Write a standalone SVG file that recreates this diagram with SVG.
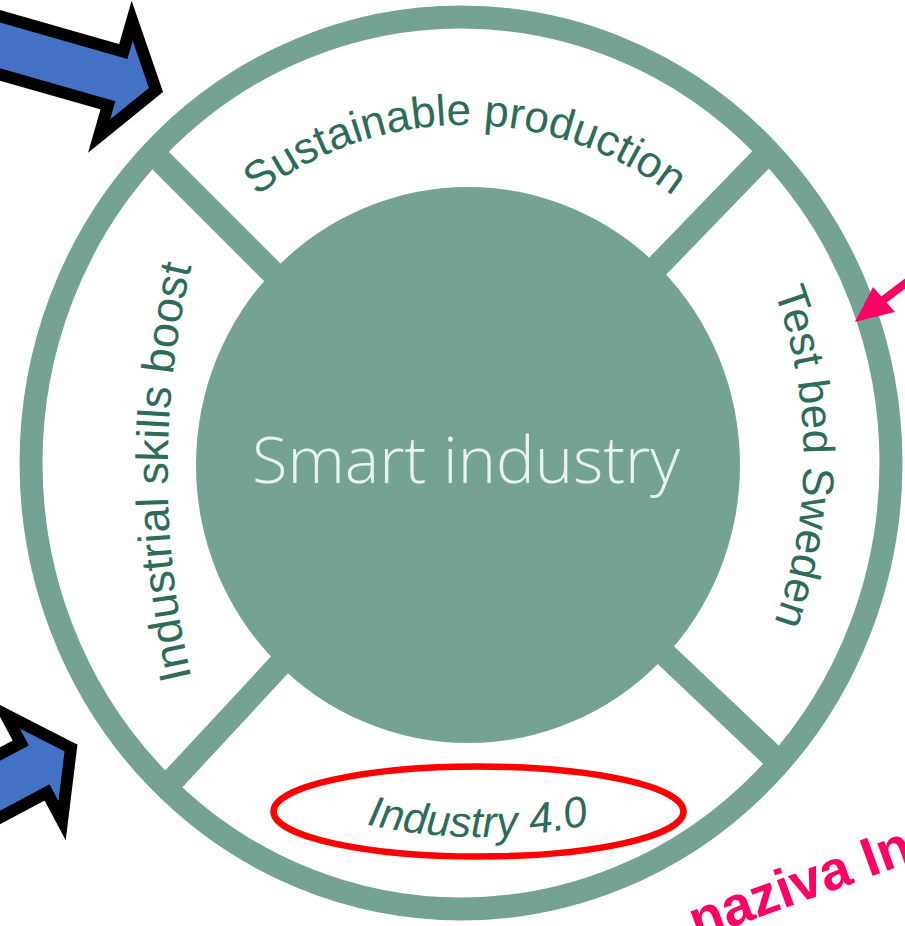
<svg xmlns="http://www.w3.org/2000/svg" width="905" height="926" viewBox="0 0 905 926">
  <defs>
    <style>
      .teal { fill: #74a396; }
      .ringline { fill: none; stroke: #74a396; stroke-width: 23; }
      .spoke { stroke: #74a396; stroke-width: 24; stroke-linecap: butt; }
      .lbl { fill: #2d6b5b; font-family: "Liberation Sans", Arial, sans-serif; }
      .blue { fill: #4472c4; stroke: #000; stroke-width: 12; stroke-linejoin: miter; stroke-miterlimit: 10; }
      .pink { fill: #ff0066; }
    </style>
    <path id="pTop" d="M 125,465 A 340 340 0 0 1 805,465"/>
    <path id="pRight" d="M 563,41 A 480 480 0 0 1 563,873"/>
    <path id="pLeft" d="M 222,780 A 900 900 0 0 1 222,164"/>
    <path id="pBottom" d="M 228,770 A 500 500 0 0 0 728,770"/>
    <polygon id="blockArrow" points="0,0 -42,-60 -42,-28 -320,-28 -320,28 -42,28 -42,60"/>
  </defs>
  <rect width="905" height="926" fill="#ffffff"/>

  <g id="connectors">
    <line class="spoke" x1="465" y1="465" x2="158" y2="158"/>
    <line class="spoke" x1="465" y1="465" x2="775" y2="145"/>
    <line class="spoke" x1="465" y1="465" x2="785" y2="768"/>
    <line class="spoke" x1="465" y1="465" x2="170" y2="783"/>
  </g>

  <g id="ring">
    <ellipse class="ringline" cx="461" cy="463" rx="430" ry="446"/>
  </g>

  <g id="smart-industry">
    <ellipse class="teal" cx="468" cy="465" rx="272" ry="278"/>
    <text x="466" y="483" text-anchor="middle" font-family="'Open Sans', 'Noto Sans', sans-serif" font-weight="300" font-size="64" fill="#e8f3ef" textLength="428" lengthAdjust="spacingAndGlyphs">Smart industry</text>
  </g>

  <g id="sustainable-production">
    <text class="lbl" font-size="44"><textPath href="#pTop" startOffset="50%" text-anchor="middle">Sustainable production</textPath></text>
  </g>

  <g id="test-bed-sweden">
    <text class="lbl" font-size="44"><textPath href="#pRight" startOffset="50%" text-anchor="middle">Test bed Sweden</textPath></text>
  </g>

  <g id="industrial-skills-boost">
    <text class="lbl" font-size="45"><textPath href="#pLeft" startOffset="50%" text-anchor="middle">Industrial skills boost</textPath></text>
  </g>

  <g id="industry-40">
    <text class="lbl" font-size="43" font-style="italic"><textPath href="#pBottom" startOffset="50%" text-anchor="middle">Industry 4.0</textPath></text>
    <ellipse cx="478.5" cy="811.5" rx="205" ry="45" fill="none" stroke="#ff0000" stroke-width="6.5"/>
  </g>

  <g id="arrow-top-left">
    <use href="#blockArrow" class="blue" transform="translate(156,90) rotate(16)"/>
  </g>
  <g id="arrow-bottom-left">
    <use href="#blockArrow" class="blue" transform="translate(71,748) rotate(-28)"/>
  </g>

  <g id="pink-arrow">
    <line x1="878" y1="304" x2="935" y2="261" stroke="#ff0066" stroke-width="8"/>
    <polygon class="pink" points="855,322 873,287 895,312"/>
  </g>

  <g id="pink-text">
    <text x="697" y="940" transform="rotate(-20 697 940)" font-family="'Liberation Sans', Arial, sans-serif" font-weight="bold" font-size="55" fill="#ff0066">naziva In</text>
  </g>
</svg>
